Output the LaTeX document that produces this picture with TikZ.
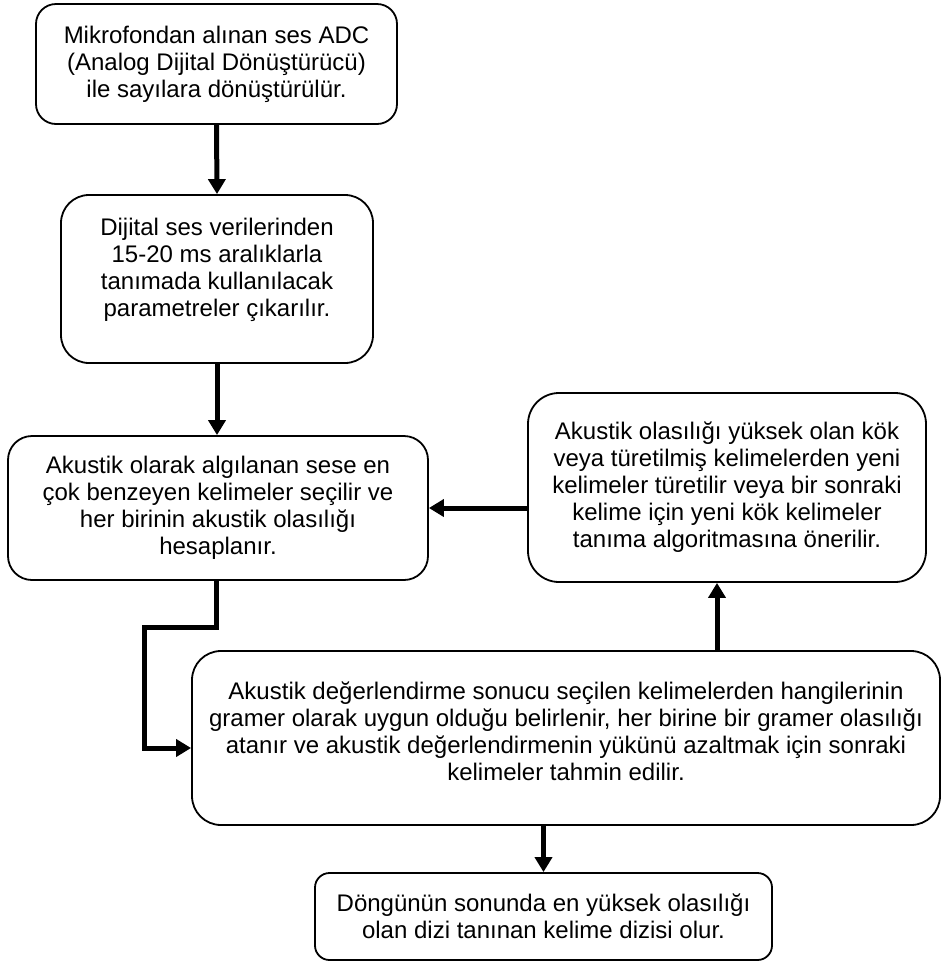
\documentclass[tikz,border=0pt]{standalone}
\usepackage{fontspec}
\setmainfont{Liberation Sans}
\usetikzlibrary{arrows.meta}
\tikzset{
  box/.style={draw=black, line width=1.8pt, align=center, inner sep=0pt,
    font=\fontsize{24}{27}\selectfont},
  arr/.style={line width=5pt, -{Triangle[width=17pt,length=15pt]}, line join=miter}
}
\begin{document}
\begin{tikzpicture}[x=1pt,y=-1pt]
\useasboundingbox (0,0) rectangle (941,962);
\node[box, minimum width=361pt, minimum height=120pt, rounded corners=20pt] (b1) at (216.5,64)
  {Mikrofondan alınan ses ADC\\(Analog Dijital Dönüştürücü)\\ile sayılara dönüştürülür.};
\node[box, minimum width=312pt, minimum height=168pt, rounded corners=28pt] (b2) at (217,279)
  {Dijital ses verilerinden\\15-20 ms aralıklarla\\tanımada kullanılacak\\parametreler çıkarılır.\\[-4pt]\mbox{}};
\node[box, minimum width=420pt, minimum height=144pt, rounded corners=24pt] (b3) at (218,508)
  {Akustik olarak algılanan sese en\\çok benzeyen kelimeler seçilir ve\\her birinin akustik olasılığı\\hesaplanır.};
\node[box, minimum width=398pt, minimum height=189pt, rounded corners=31pt] (b4) at (727,487.5)
  {Akustik olasılığı yüksek olan kök\\veya türetilmiş kelimelerden yeni\\kelimeler türetilir veya bir sonraki\\kelime için yeni kök kelimeler\\tanıma algoritmasına önerilir.};
\node[box, minimum width=748pt, minimum height=174pt, rounded corners=29pt] (b5) at (566,738)
  {Akustik değerlendirme sonucu seçilen kelimelerden hangilerinin\\gramer olarak uygun olduğu belirlenir, her birine bir gramer olasılığı\\atanır ve akustik değerlendirmenin yükünü azaltmak için sonraki\\kelimeler tahmin edilir.\\[-13pt]\mbox{}};
\node[box, minimum width=457pt, minimum height=87pt, rounded corners=14.5pt] (b6) at (543.5,916.5)
  {Döngünün sonunda en yüksek olasılığı\\olan dizi tanınan kelime dizisi olur.};
\coordinate (k1) at (216,627);
\coordinate (k2) at (144,627);
\coordinate (k3) at (144,748);
\coordinate (kx) at (717,0);
\draw[arr] (b1.south) -- (b2.north);
\draw[arr] (b2.south) -- (b2.south |- b3.north);
\draw[arr] (b4.west |- b3.east) -- (b3.east);
\draw[arr] (b5.north -| kx) -- (b4.south -| kx);
\draw[arr] (b3.south -| k1) -- (k1) -- (k2) -- (k3) -- (b5.west |- k3);
\draw[arr] (b5.south -| b6.north) -- (b6.north);
\end{tikzpicture}
\end{document}
